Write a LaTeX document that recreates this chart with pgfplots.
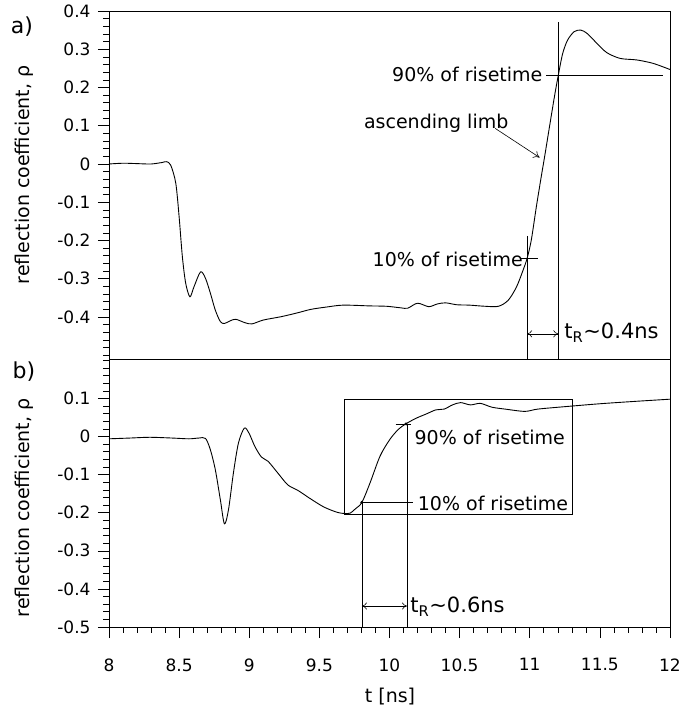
\documentclass[border=0pt]{standalone}
\usepackage{fontspec}
\setmainfont{DejaVu Sans}
\usepackage{pgfplots}
\pgfplotsset{compat=1.18}
\usetikzlibrary{arrows.meta}

\pgfplotstableread{
t rho
8.00 0.000
8.10 0.002
8.20 0.001
8.30 0.000
8.38 0.004
8.41 0.006
8.44 -0.003
8.476 -0.050
8.500 -0.138
8.523 -0.242
8.547 -0.312
8.577 -0.347
8.606 -0.321
8.653 -0.282
8.688 -0.299
8.723 -0.338
8.758 -0.382
8.794 -0.412
8.823 -0.417
8.864 -0.410
8.904 -0.406
8.970 -0.415
9.020 -0.418
9.100 -0.408
9.230 -0.399
9.345 -0.389
9.440 -0.380
9.550 -0.374
9.670 -0.369
9.860 -0.371
9.980 -0.372
10.080 -0.376
10.130 -0.377
10.200 -0.364
10.280 -0.373
10.340 -0.366
10.400 -0.363
10.480 -0.368
10.570 -0.369
10.683 -0.372
10.777 -0.372
10.847 -0.356
10.906 -0.321
10.953 -0.277
10.981 -0.247
11.011 -0.199
11.047 -0.112
11.082 -0.033
11.106 0.019
11.141 0.098
11.176 0.176
11.204 0.233
11.235 0.289
11.270 0.324
11.317 0.346
11.364 0.350
11.410 0.341
11.480 0.315
11.550 0.291
11.645 0.276
11.763 0.272
11.880 0.263
12.000 0.247
}\dataA

\pgfplotstableread{
t rho
8.000 -0.006
8.150 -0.004
8.290 -0.002
8.450 -0.004
8.570 -0.006
8.641 -0.004
8.688 -0.005
8.723 -0.035
8.758 -0.087
8.794 -0.166
8.823 -0.229
8.852 -0.192
8.887 -0.096
8.923 -0.017
8.965 0.022
8.998 0.009
9.040 -0.026
9.087 -0.054
9.134 -0.065
9.204 -0.096
9.275 -0.127
9.345 -0.141
9.439 -0.164
9.532 -0.185
9.627 -0.199
9.680 -0.202
9.720 -0.201
9.756 -0.190
9.803 -0.173
9.861 -0.122
9.932 -0.052
10.000 -0.009
10.061 0.018
10.115 0.033
10.190 0.048
10.261 0.059
10.331 0.070
10.390 0.072
10.449 0.083
10.507 0.089
10.577 0.083
10.648 0.087
10.730 0.077
10.824 0.072
10.965 0.066
11.058 0.072
11.270 0.079
11.500 0.086
11.740 0.092
12.000 0.098
}\dataB

\begin{document}
\begin{tikzpicture}[font=\fontsize{17bp}{20bp}\selectfont]
\path[use as bounding box] (-109bp,-81bp) rectangle (577bp,627bp);
\pgfplotsset{common/.style={
  scale only axis, width=561bp, xmin=8, xmax=12, clip=false,
  tick pos=left, tick align=outside,
  major tick length=11bp, minor tick length=5.5bp,
  tick style={black, line width=0.6bp},
  axis line style={line width=0.7bp},
  /pgf/number format/assume math mode=true,
  yticklabel style={xshift=-4bp},
  tick label style={font=\fontsize{17bp}{20bp}\selectfont},
}}
\tikzset{ann/.style={line width=0.6bp},
  txt/.style={inner sep=0pt, font=\fontsize{19bp}{22bp}\selectfont},
  big/.style={inner sep=0pt, font=\fontsize{21bp}{24bp}\selectfont}}

% bottom panel (b)
\begin{axis}[common, at={(0,0)}, anchor=south west, height=268bp,
  ymin=-0.5, ymax=0.2035,
  xtick={8,8.5,9,9.5,10,10.5,11,11.5,12}, minor x tick num=4,
  ytick={-0.5,-0.4,-0.3,-0.2,-0.1,0,0.1},
  minor ytick={-0.48,-0.46,...,0.2},
  xticklabel style={yshift=-17bp}]
\addplot[black, line width=0.9bp, smooth, tension=0.5] table[x=t, y=rho] {\dataB};
\draw[ann] (axis cs:9.678,-0.203) rectangle (axis cs:11.305,0.098);
\draw[ann] (axis cs:9.803,-0.173) -- (axis cs:9.803,-0.5);
\draw[ann] (axis cs:10.125,0.033) -- (axis cs:10.125,-0.5);
\draw[ann] (axis cs:9.803,-0.173) -- (axis cs:10.166,-0.173);
\draw[ann] (axis cs:10.044,0.031) -- (axis cs:10.155,0.031);
\draw[ann, {To[length=5bp,width=7bp]}-{To[length=5bp,width=7bp]}] (axis cs:9.803,-0.445) -- (axis cs:10.125,-0.445);
\addplot[only marks, mark=*, mark size=1.3bp, black] coordinates {(9.803,-0.173) (10.118,0.033)};
\node[txt, anchor=base west] at (axis cs:10.178,-0.022) {90\% of risetime};
\node[txt, anchor=base west] at (axis cs:10.201,-0.194) {10\% of risetime};
\node[big, anchor=base west] at (axis cs:10.148,-0.463) {t\textsubscript{R}\textasciitilde 0.6ns};
\end{axis}

% top panel (a)
\begin{axis}[common, at={(0,268bp)}, anchor=south west, height=348bp,
  ymin=-0.5098, ymax=0.4,
  xtick=\empty,
  ytick={-0.4,-0.3,-0.2,-0.1,0,0.1,0.2,0.3,0.4},
  minor ytick={-0.5,-0.48,...,0.4}]
\addplot[black, line width=0.9bp, smooth, tension=0.5] table[x=t, y=rho] {\dataA};
\draw[ann] (axis cs:11.204,0.371) -- (axis cs:11.204,-0.5098);
\draw[ann] (axis cs:10.981,-0.188) -- (axis cs:10.981,-0.5098);
\draw[ann] (axis cs:11.117,0.233) -- (axis cs:11.951,0.233);
\draw[ann] (axis cs:10.941,-0.247) -- (axis cs:11.058,-0.247);
\draw[ann, {To[length=5bp,width=7bp]}-{To[length=5bp,width=7bp]}] (axis cs:10.981,-0.444) -- (axis cs:11.204,-0.444);
\draw[ann, -{To[length=6bp,width=8bp]}] (axis cs:10.754,0.093) -- (axis cs:11.07,0.017);
\node[txt, anchor=base east] at (axis cs:11.092,0.215) {90\% of risetime};
\node[txt, anchor=base west] at (axis cs:9.817,0.0915) {ascending limb};
\node[txt, anchor=base east] at (axis cs:10.953,-0.2685) {10\% of risetime};
\node[big, anchor=base west] at (axis cs:11.246,-0.456) {t\textsubscript{R}\textasciitilde 0.4ns};
\end{axis}

\node[rotate=90, font=\fontsize{19bp}{22bp}\selectfont] at (-85bp,452bp) {reflection coefficient, ρ};
\node[rotate=90, font=\fontsize{19bp}{22bp}\selectfont] at (-85bp,119bp) {reflection coefficient, ρ};
\node[font=\fontsize{22bp}{24bp}\selectfont] at (-87bp,600bp) {a)};
\node[font=\fontsize{22bp}{24bp}\selectfont] at (-85bp,255bp) {b)};
\node[font=\fontsize{19bp}{22bp}\selectfont] at (281bp,-70bp) {t [ns]};
\end{tikzpicture}
\end{document}
